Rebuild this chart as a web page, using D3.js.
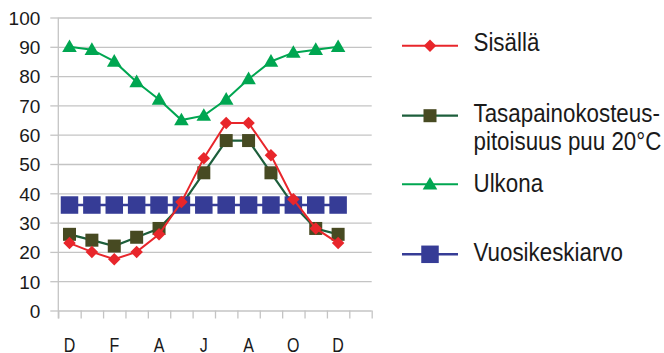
<!DOCTYPE html>
<html>
<head>
<meta charset="utf-8">
<script src="https://cdn.jsdelivr.net/npm/d3@7"></script>
<style>
  html, body { margin: 0; padding: 0; background: #fff; }
  svg { display: block; }
  .tick text { font-family: "Liberation Sans", Arial, sans-serif; font-size: 19px; fill: #1a1a1a; }
  .xlab .tick text { font-size: 20px; }
  .legend text { font-family: "Liberation Sans", Arial, sans-serif; font-size: 26px; fill: #1a1a1a; }
</style>
</head>
<body>
<svg id="chart" width="664" height="353"></svg>
<script>
// Month initials, one per column (last column left empty)
const months = ["D", "J", "F", "M", "A", "M", "J", "J", "A", "S", "O", "N", "D", ""];
const yTicks = [0, 10, 20, 30, 40, 50, 60, 70, 80, 90, 100];

// Relative humidity (%) and equilibrium moisture content series
const sisalla = [23, 20, 17.5, 20, 26, 37, 52, 64, 64, 53, 38, 28, 23];
const tasapaino = [26, 24, 22, 25, 28, 36, 47, 58, 58, 47, 36, 28, 26];
const ulkona = [90, 89, 85, 78, 72, 65, 66.5, 72, 79, 85, 88, 89, 90];
const vuosikeskiarvo = [36, 36, 36, 36, 36, 36, 36, 36, 36, 36, 36, 36, 36];

const seriesNames = ["Sisällä", "Tasapainokosteus-\npitoisuus puu 20°C", "Ulkona", "Vuosikeskiarvo"];

const svg = d3.select("#chart");
const plotLeft = 58.3, plotRight = 371.7, plotTop = 17.5, plotBottom = 310.5;
const gridColor = "#c4c4c4";
const narrow = 0.86; // horizontal squeeze for the condensed-looking type

const x = d3.scaleBand().domain(d3.range(months.length)).range([plotLeft, plotRight]).padding(0);
const xEdge = d3.scaleLinear().domain([0, months.length]).range([plotLeft, plotRight]);
const y = d3.scaleLinear().domain([0, 100]).range([plotBottom, plotTop]);

// Horizontal gridlines
const grid = svg.append("g").attr("transform", `translate(${plotLeft},0)`)
  .call(d3.axisLeft(y).tickValues(yTicks).tickSize(-(plotRight - plotLeft)).tickFormat(""));
grid.select(".domain").remove();
grid.selectAll(".tick line").attr("stroke", gridColor).attr("stroke-width", 1.3);

// Y axis with labels
const yAxis = svg.append("g").attr("transform", `translate(${plotLeft},0)`)
  .call(d3.axisLeft(y).tickValues(yTicks).tickSize(8).tickPadding(10).tickSizeOuter(0));
yAxis.select(".domain").attr("stroke", gridColor).attr("stroke-width", 1.3)
  .attr("d", `M0,${plotTop}V${plotBottom + 8}`);
yAxis.selectAll(".tick line").attr("stroke", gridColor).attr("stroke-width", 1.3);
yAxis.selectAll(".tick text").attr("dy", "0.36em");

// X axis column boundary ticks
const xTicksG = svg.append("g").attr("transform", `translate(0,${plotBottom})`)
  .call(d3.axisBottom(xEdge).tickValues(d3.range(months.length + 1)).tickSize(8).tickFormat(""));
xTicksG.select(".domain").remove();
xTicksG.selectAll(".tick line").attr("stroke", gridColor).attr("stroke-width", 1.3);

// X axis month labels on every second column
const xLab = svg.append("g").attr("class", "xlab").attr("transform", `translate(0,${plotBottom})`)
  .call(d3.axisBottom(x).tickSize(0).tickPadding(0)
    .tickFormat(i => (i % 2 === 0 ? months[i] : "")));
xLab.select(".domain").remove();
xLab.selectAll(".tick text").attr("y", 0).attr("dy", 0)
  .attr("transform", "translate(0,41) scale(0.8,1)");

const cx = (d, i) => x(i) + x.bandwidth() / 2;
const line = d3.line().x((d, i) => cx(d, i)).y(d => y(d));

const symDiamond = d3.symbol().type(d3.symbolDiamond2).size(100);
const symTriangle = d3.symbol().type(d3.symbolTriangle).size(92);

function drawSeries(data, cfg) {
  const g = svg.append("g");
  g.append("path").datum(data).attr("d", line)
    .attr("fill", "none").attr("stroke", cfg.lineColor).attr("stroke-width", cfg.lineWidth);
  const pts = g.selectAll(".pt").data(data).join("g")
    .attr("transform", (d, i) => `translate(${cx(d, i)},${y(d)})`);
  cfg.marker(pts);
}

function squareMarker(size, color) {
  return sel => sel.append("rect")
    .attr("x", -size / 2).attr("y", -size / 2).attr("width", size).attr("height", size)
    .attr("fill", color);
}
function pathMarker(sym, color, dy = 0) {
  return sel => sel.append("path").attr("d", sym()).attr("fill", color)
    .attr("transform", `translate(0,${dy})`);
}

const styles = [
  { lineColor: "#e8262b", lineWidth: 2, marker: pathMarker(symDiamond, "#e8262b") },
  { lineColor: "#1d5e3b", lineWidth: 2.2, marker: squareMarker(13, "#474a22") },
  { lineColor: "#00a651", lineWidth: 2, marker: pathMarker(symTriangle, "#00a651", 1) },
  { lineColor: "#363c96", lineWidth: 2.4, marker: squareMarker(17.5, "#363c96") }
];
const allSeries = [sisalla, tasapaino, ulkona, vuosikeskiarvo];

// Drawing order: moisture content, yearly mean, indoor, outdoor
[1, 3, 0, 2].forEach(k => drawSeries(allSeries[k], styles[k]));

// Legend
const legendY = [45.7, 115.7, 184.3, 254.3];
const legendBase = [[50.5], [121.5, 149.5], [191.8], [261]];
const lg = svg.append("g").attr("class", "legend");
seriesNames.forEach((name, k) => {
  const st = styles[k];
  const row = lg.append("g");
  row.append("line").attr("x1", 402).attr("x2", 458)
    .attr("y1", legendY[k]).attr("y2", legendY[k])
    .attr("stroke", st.lineColor).attr("stroke-width", st.lineWidth);
  const m = row.append("g").attr("transform", `translate(430,${legendY[k]})`);
  st.marker(m);
  name.split("\n").forEach((txt, j) => {
    row.append("text")
      .attr("transform", `translate(473.5,${legendBase[k][j]}) scale(${narrow},1)`)
      .text(txt);
  });
});
</script>
</body>
</html>
